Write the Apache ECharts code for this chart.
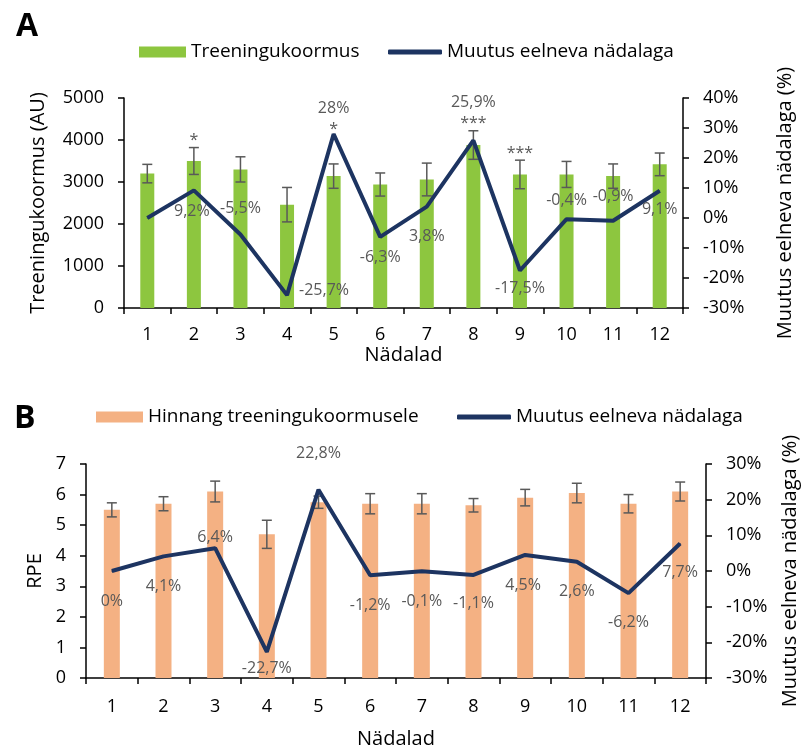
<!DOCTYPE html>
<html><head><meta charset="utf-8">
<script src="https://cdn.jsdelivr.net/npm/echarts@6.0.0/dist/echarts.min.js"></script>
<style>html,body{margin:0;padding:0;background:#fff}#c{width:808px;height:750px}</style>
</head><body><div id="c"></div>
<script>
// ---- data ----
const weeks = ['1','2','3','4','5','6','7','8','9','10','11','12'];
const loadA = [3200, 3500, 3300, 2460, 3140, 2940, 3060, 3880, 3180, 3180, 3140, 3420];
const loadErrA = [220, 320, 300, 410, 290, 275, 390, 340, 340, 310, 290, 270];
const changeA = [0, 9.2, -5.5, -25.7, 28, -6.3, 3.8, 25.9, -17.5, -0.4, -0.9, 9.1];
const sigBarA = ['', '*', '', '', '', '', '', '***', '***', '', '', ''];
const sigLineA = ['', '', '', '', '*', '', '', '', '', '', '', ''];
const rpeB = [5.5, 5.7, 6.1, 4.7, 5.75, 5.7, 5.7, 5.65, 5.9, 6.05, 5.7, 6.1];
const rpeErrB = [0.23, 0.23, 0.34, 0.46, 0.2, 0.33, 0.33, 0.22, 0.27, 0.32, 0.3, 0.31];
const changeB = [0, 4.1, 6.4, -22.7, 22.8, -1.2, -0.1, -1.1, 4.5, 2.6, -6.2, 7.7];
const nameBarA = 'Treeningukoormus';
const nameBarB = 'Hinnang treeningukoormusele';
const nameLine = 'Muutus eelneva nädalaga';

// ---- label placement (style) ----
const labelOffA = [null, [-2,21], [0,-26], [37,-5], [0,-26], [0,21], [0,30], [0,-38], [0,18], [0,-19], [0,-24], [0,19]];
const labelOffB = [[0,30],[0,30],[0,-11],[0,16],[0,-36],[0,30],[0,30],[0,29],[-2,30],[0,30],[0,29],[0,29]];

const FONT = "'Open Sans', sans-serif";
const NAVY = '#1d3461';
const GREEN = '#8dc63f';
const ORANGE = '#f4b183';
const LBL = '#595959';

const fmtPct = v => String(v).replace('.', ',') + '%';

function errItem(params, api) {
  const i = api.value(0), v = api.value(1), e = api.value(2);
  const t = api.coord([i, v + e]), b = api.coord([i, v - e]);
  const hw = 5, st = {stroke: '#595959', lineWidth: 1.5};
  return {type: 'group', children: [
    {type: 'line', shape: {x1: t[0], y1: t[1], x2: b[0], y2: b[1]}, style: st},
    {type: 'line', shape: {x1: t[0]-hw, y1: t[1], x2: t[0]+hw, y2: t[1]}, style: st},
    {type: 'line', shape: {x1: b[0]-hw, y1: b[1], x2: b[0]+hw, y2: b[1]}, style: st}
  ]};
}
function starSeries(sig, vals, xi, yi, lift) {
  const data = [];
  sig.forEach((s, i) => { if (s) data.push([i, vals[i], i]); });
  return {
    type: 'custom', xAxisIndex: xi, yAxisIndex: yi, z: 5, silent: true, data,
    renderItem: (params, api) => {
      const p = api.coord([api.value(0), api.value(1)]);
      return {type: 'text', x: p[0], y: p[1] - lift,
        style: {text: sig[api.value(2)], fill: LBL, font: '16px ' + FONT, align: 'center', verticalAlign: 'middle'}};
    }
  };
}
function lineData(vals, offs) {
  return vals.map((v, i) => ({
    value: v,
    label: offs[i] ? {show: true, position: 'inside', offset: offs[i]} : {show: false}
  }));
}

const axisLine = {show: true, lineStyle: {color: '#000', width: 1.5}};
const axisTick = {show: true, length: 6, lineStyle: {color: '#000', width: 1.5}};
const tickText = {fontSize: 18, color: '#000', fontFamily: FONT};
const nameText = {fontSize: 20, color: '#000', fontFamily: FONT};

function xAx(gi, margin, gap) {
  return {type: 'category', gridIndex: gi, data: weeks, axisLine, axisTick,
    axisLabel: Object.assign({margin}, tickText),
    name: 'Nädalad', nameLocation: 'middle', nameGap: gap, nameTextStyle: nameText};
}
function yAx(gi, pos, min, max, interval, name, gap, pct) {
  return {type: 'value', gridIndex: gi, position: pos, min, max, interval,
    axisLine, axisTick, splitLine: {show: false},
    axisLabel: Object.assign({margin: 20, formatter: v => pct ? v + '%' : String(v)}, tickText),
    name, nameLocation: 'middle', nameRotate: 90, nameGap: gap, nameTextStyle: nameText};
}

const lineLabel = {color: LBL, fontSize: 16, fontFamily: FONT, formatter: p => fmtPct(p.value)};

const option = {
  animation: false,
  textStyle: {fontFamily: FONT},
  grid: [
    {left: 124, top: 98, width: 559, height: 210},
    {left: 86, top: 464, width: 626, height: 214}
  ],
  title: [
    {text: 'A', left: 11, top: 6, textStyle: {fontSize: 32, fontWeight: 'bold', color: '#000', fontFamily: FONT}},
    {text: 'B', left: 9, top: 398, textStyle: {fontSize: 32, fontWeight: 'bold', color: '#000', fontFamily: FONT}}
  ],
  legend: [
    {data: [{name: nameBarA, icon: 'rect'}], left: 139, top: 42, padding: 0, itemWidth: 47, itemHeight: 11,
      textStyle: {fontSize: 19, color: '#000', lineHeight: 20, fontFamily: FONT}, selectedMode: false},
    {data: [{name: nameLine, icon: 'roundRect'}], left: 388, top: 42, padding: 0, itemWidth: 54, itemHeight: 5,
      textStyle: {fontSize: 19, color: '#000', lineHeight: 20, fontFamily: FONT}, selectedMode: false},
    {data: [{name: nameBarB, icon: 'rect'}], left: 96, top: 407, padding: 0, itemWidth: 47, itemHeight: 11,
      textStyle: {fontSize: 19, color: '#000', lineHeight: 20, fontFamily: FONT}, selectedMode: false},
    {data: [{name: nameLine, icon: 'roundRect'}], left: 457, top: 407, padding: 0, itemWidth: 54, itemHeight: 5,
      textStyle: {fontSize: 19, color: '#000', lineHeight: 20, fontFamily: FONT}, selectedMode: false}
  ],
  xAxis: [xAx(0, 18, 34), xAx(1, 20, 51)],
  yAxis: [
    yAx(0, 'left', 0, 5000, 1000, 'Treeningukoormus (AU)', 76, false),
    yAx(0, 'right', -30, 40, 10, 'Muutus eelneva nädalaga (%)', 92, true),
    yAx(1, 'left', 0, 7, 1, 'RPE', 41, false),
    yAx(1, 'right', -30, 30, 10, 'Muutus eelneva nädalaga (%)', 74, true)
  ],
  series: [
    {name: nameBarA, type: 'bar', xAxisIndex: 0, yAxisIndex: 0, barWidth: 14, z: 2,
      itemStyle: {color: GREEN}, data: loadA},
    {type: 'custom', xAxisIndex: 0, yAxisIndex: 0, z: 3, silent: true, renderItem: errItem,
      data: loadA.map((v, i) => [i, v, loadErrA[i]])},
    {name: nameLine, type: 'line', xAxisIndex: 0, yAxisIndex: 1, z: 4,
      symbol: 'circle', symbolSize: 1, showSymbol: true,
      lineStyle: {color: NAVY, width: 4}, itemStyle: {color: NAVY},
      label: lineLabel, data: lineData(changeA, labelOffA)},
    starSeries(sigBarA, loadA.map((v, i) => v + loadErrA[i]), 0, 0, 7),
    starSeries(sigLineA, changeA, 0, 1, 5),

    {name: nameBarB, type: 'bar', xAxisIndex: 1, yAxisIndex: 2, barWidth: 16, z: 2,
      itemStyle: {color: ORANGE}, data: rpeB},
    {type: 'custom', xAxisIndex: 1, yAxisIndex: 2, z: 3, silent: true, renderItem: errItem,
      data: rpeB.map((v, i) => [i, v, rpeErrB[i]])},
    {name: nameLine, type: 'line', xAxisIndex: 1, yAxisIndex: 3, z: 4,
      symbol: 'circle', symbolSize: 1, showSymbol: true,
      lineStyle: {color: NAVY, width: 4}, itemStyle: {color: NAVY},
      label: lineLabel, data: lineData(changeB, labelOffB)}
  ]
};
const chart = echarts.init(document.getElementById('c'), null, {renderer: 'canvas'});
chart.setOption(option);
</script>
</body></html>
